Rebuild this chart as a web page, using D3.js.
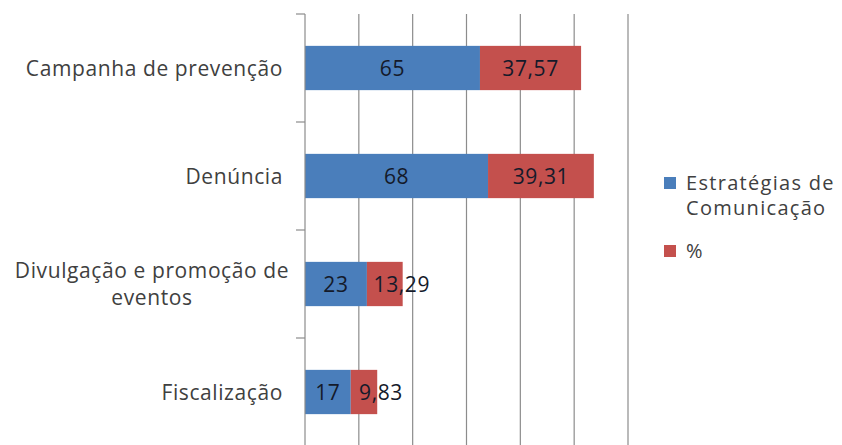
<!DOCTYPE html>
<html>
<head>
<meta charset="utf-8">
<script src="https://cdn.jsdelivr.net/npm/d3@7"></script>
<style>
  body { margin: 0; background: #fff; }
  text { font-family: "Open Sans", sans-serif; }
</style>
</head>
<body>
<div id="chart"></div>
<script>
// data
var categories = ["Campanha de prevenção", "Denúncia", "Divulgação e promoção de eventos", "Fiscalização"];
var labelLines = [["Campanha de prevenção"], ["Denúncia"], ["Divulgação e promoção de", "eventos"], ["Fiscalização"]];
var estrategias = [65, 68, 23, 17];
var percent = [37.57, 39.31, 13.29, 9.83];
var seriesNames = ["Estratégias de Comunicação", "%"];
var legendLines = [["Estratégias de", "Comunicação"], ["%"]];
var xTicks = [0, 20, 40, 60, 80, 100, 120];

var svgWidth = 842;
var svgHeight = 445;
var margin = { top: 14, left: 305, right: 214, bottom: -1 };
var chartWidth = 323;
var chartHeight = svgHeight - margin.top - margin.bottom;

var colors = ["#4a7ebb", "#c4504d"];

var svg = d3.select("#chart").append("svg")
  .attr("width", svgWidth)
  .attr("height", svgHeight);

var chartGroup = svg.append("g")
  .attr("transform", `translate(${margin.left}, ${margin.top})`);

var x = d3.scaleLinear().domain([0, 120]).range([0, chartWidth]);
var y = d3.scaleBand().domain(categories).range([0, chartHeight]).paddingInner(0.59).paddingOuter(0.295);
var yTick = d3.scaleLinear().domain([0, categories.length]).range([0, chartHeight]);

// vertical gridlines
chartGroup.selectAll(".grid")
  .data(xTicks.slice(1))
  .enter()
  .append("line")
  .attr("x1", d => x(d)).attr("x2", d => x(d))
  .attr("y1", 0).attr("y2", chartHeight)
  .attr("stroke", "#8c8c8c")
  .attr("stroke-width", 1.2);

// stacked data
var rows = categories.map(function(c, i) {
  return { cat: c, lines: labelLines[i], a: estrategias[i], b: percent[i] };
});

var fmt = function(v) { return String(v).replace(".", ","); };

// blue segments
chartGroup.selectAll(".barA")
  .data(rows)
  .enter()
  .append("rect")
  .attr("x", x(0))
  .attr("y", d => y(d.cat))
  .attr("width", d => x(d.a) - x(0))
  .attr("height", y.bandwidth())
  .attr("fill", colors[0]);

// red segments
chartGroup.selectAll(".barB")
  .data(rows)
  .enter()
  .append("rect")
  .attr("x", d => x(d.a))
  .attr("y", d => y(d.cat))
  .attr("width", d => x(d.a + d.b) - x(d.a))
  .attr("height", y.bandwidth())
  .attr("fill", colors[1]);

// y axis line + ticks
chartGroup.append("line")
  .attr("x1", 0).attr("x2", 0)
  .attr("y1", 0).attr("y2", chartHeight)
  .attr("stroke", "#8c8c8c")
  .attr("stroke-width", 1.2);

chartGroup.selectAll(".ytick")
  .data(d3.range(categories.length + 1))
  .enter()
  .append("line")
  .attr("x1", -9).attr("x2", 0)
  .attr("y1", d => yTick(d)).attr("y2", d => yTick(d))
  .attr("stroke", "#8c8c8c")
  .attr("stroke-width", 1.2);

// value labels
chartGroup.selectAll(".labA")
  .data(rows)
  .enter()
  .append("text")
  .attr("x", d => (x(0) + x(d.a)) / 2)
  .attr("y", d => y(d.cat) + y.bandwidth() / 2)
  .attr("dy", "0.36em")
  .attr("text-anchor", "middle")
  .style("font-size", "21px")
  .style("letter-spacing", "0.6px")
  .attr("fill", "#141a2a")
  .text(d => fmt(d.a));

chartGroup.selectAll(".labB")
  .data(rows)
  .enter()
  .append("text")
  .attr("x", d => (x(d.a) + x(d.a + d.b)) / 2 + (d.b < 20 ? 17 : 0))
  .attr("y", d => y(d.cat) + y.bandwidth() / 2)
  .attr("dy", "0.36em")
  .attr("text-anchor", "middle")
  .style("font-size", "21px")
  .style("letter-spacing", "0.6px")
  .attr("fill", "#141a2a")
  .text(d => fmt(d.b));

// category labels (one text per line)
rows.forEach(function(d) {
  var n = d.lines.length;
  var cy = y(d.cat) + y.bandwidth() / 2;
  d.lines.forEach(function(line, j) {
    chartGroup.append("text")
      .attr("x", n > 1 ? -153 : -22)
      .attr("y", cy + (j - (n - 1) / 2) * 27)
      .attr("dy", "0.36em")
      .attr("text-anchor", n > 1 ? "middle" : "end")
      .attr("fill", "#404040")
      .style("font-size", "21px")
      .style("letter-spacing", "0.6px")
      .text(line);
  });
});

// legend
var legend = svg.append("g").attr("transform", "translate(664, 0)");
var legendTop = [183, 251];
legendLines.forEach(function(lines, i) {
  legend.append("rect")
    .attr("x", 0).attr("y", legendTop[i] - 6)
    .attr("width", 12).attr("height", 12)
    .attr("fill", colors[i]);
  lines.forEach(function(line, j) {
    legend.append("text")
      .attr("x", 22)
      .attr("y", legendTop[i] + j * 25)
      .attr("dy", "0.36em")
      .attr("fill", "#404040")
      .style("font-size", "20px")
      .style("letter-spacing", "1.3px")
      .text(line);
  });
});
</script>
</body>
</html>
